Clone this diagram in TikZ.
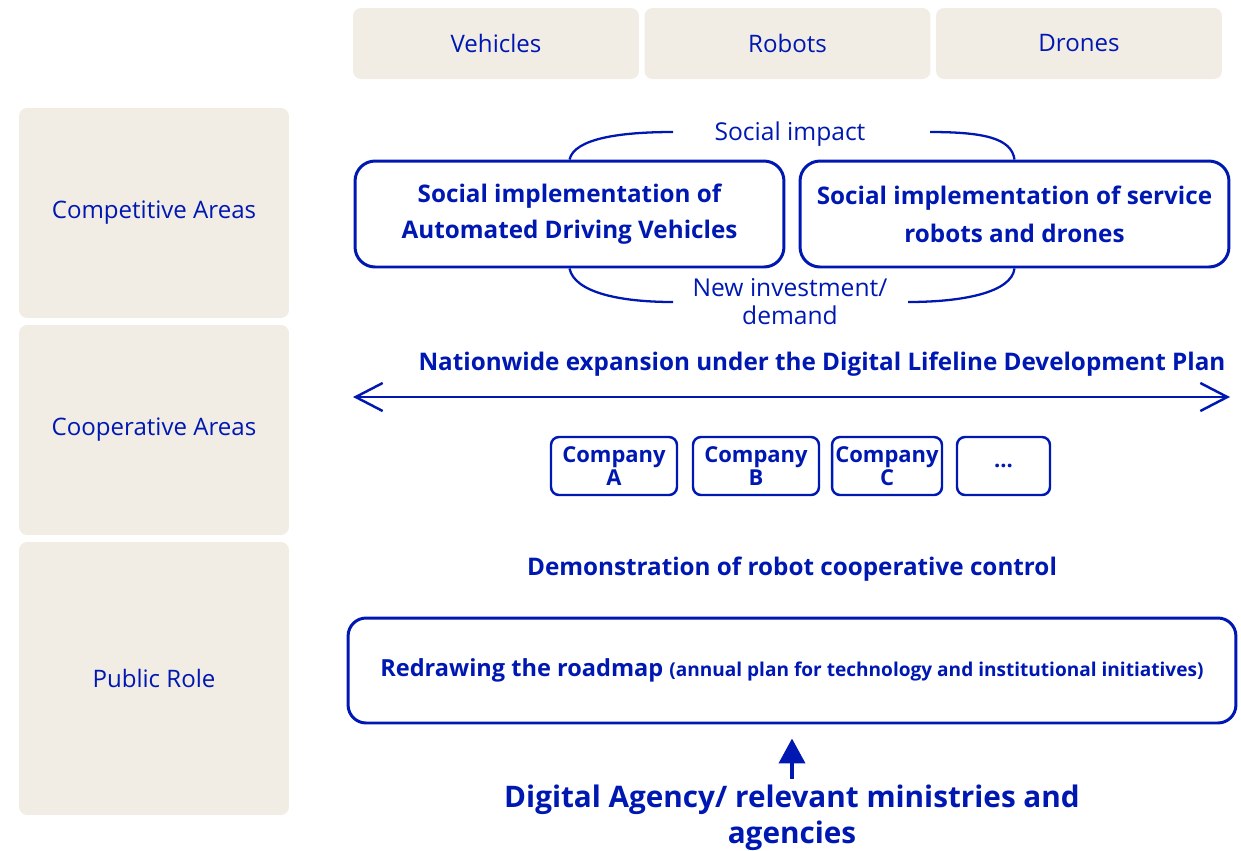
\documentclass[tikz,border=0pt]{standalone}
\usepackage{fontspec}
\setmainfont{Open Sans}
\usepackage{xcolor}
\usepackage{tikz}
\usetikzlibrary{arrows.meta,positioning,calc}
\definecolor{navy}{RGB}{0,24,178}
\definecolor{sand}{RGB}{241,236,228}

\begin{document}
\begin{tikzpicture}[x=0.02cm,y=-0.02cm,
  tab/.style={fill=sand,rounded corners=0.16cm,inner sep=0pt,text=navy,font=\fontsize{13.7}{17}\selectfont},
  area/.style={tab,minimum width=5.4cm,minimum height=4.2cm},
  impl/.style={draw=navy,line width=1.7pt,rounded corners=0.4cm,minimum width=8.58cm,minimum height=2.12cm,align=center,text=navy,font=\bfseries\fontsize{13.8}{20.5}\selectfont},
  firm/.style={draw=navy,line width=1.4pt,rounded corners=0.16cm,minimum height=1.16cm,inner sep=0pt,align=center,text=navy,font=\bfseries\fontsize{12.5}{13.2}\selectfont},
  link/.style={navy,line width=1.3pt},
  lab/.style={text=navy,align=center,font=\fontsize{14}{16}\selectfont},
  head/.style={lab,font=\bfseries\fontsize{13.8}{16}\selectfont}]
\useasboundingbox (0,0) rectangle (1241,850);

% header tabs and areas
\foreach \n/\x/\t in {veh/496/Vehicles,rob/787.5/Robots,dro/1079/Drones}
  \node[tab,minimum width=5.72cm,minimum height=1.42cm] (\n) at (\x,43.5) {\t};
\node[area] (comp) at (154,213) {Competitive Areas};
\node[area] (coop) at (154,430) {Cooperative Areas};
\node[area,minimum height=5.46cm] (pub) at (154,678.5) {Public Role};

% competitive areas
\node[impl] (adv) at (569.5,214) {Social implementation of\\Automated Driving Vehicles};
\node[impl,font=\bfseries\fontsize{13.8}{21.5}\selectfont] (srv) at (1014.5,214) {Social implementation of service\\robots and drones};
\node[lab] (impact) at (790,134) {Social impact};
\node[lab] (invest) at (790,302) {New investment/\\demand};
\coordinate (imL) at (673,132); \coordinate (imR) at (930,132);
\coordinate (inL) at (673,302); \coordinate (inR) at (908,302);
\draw[link] (adv.north) .. controls +(5,-21) and +(-53,0) .. (imL);
\draw[link] (imR) .. controls +(55,0) and +(-3,-21) .. (srv.north);
\draw[link] (adv.south) .. controls +(5,24) and +(-53,0) .. (inL);
\draw[link] (inR) .. controls +(55,0) and +(-3,24) .. (srv.south);

% cooperative areas
\node[head] (nation) at (822,364) {Nationwide expansion under the Digital Lifeline Development Plan};
\coordinate (spanL) at (353,397); \coordinate (spanR) at (1230,397);
\draw[link,line width=1.4pt,{Straight Barb[length=0.54cm,width=0.56cm]}-{Straight Barb[length=0.54cm,width=0.56cm]}] (spanL) -- (spanR);
\foreach \n/\x/\w/\t in {ca/614/2.52/{Company\\A},cb/756/2.52/{Company\\B},cc/887/2.2/{Company\\C},cx/1003.5/1.86/{...}}
  \node[firm,minimum width=\w cm] (\n) at (\x,466) {\t};

% public role
\node[head] (demo) at (792,569) {Demonstration of robot cooperative control};
\node[draw=navy,line width=1.7pt,rounded corners=0.36cm,minimum width=17.76cm,minimum height=2.1cm,text=navy,font=\bfseries\fontsize{13.4}{16}\selectfont] (road) at (792,670.5)
 {Redrawing the roadmap {\fontsize{10.85}{13}\selectfont(annual plan for technology and institutional initiatives)}};
\node[lab,font=\bfseries\fontsize{16.9}{20.5}\selectfont] (agency) at (792,818) {Digital Agency/ relevant ministries and\\agencies};
\draw[navy,line width=2.3pt,-{Triangle[length=0.5cm,width=0.52cm]}] (agency.north) -- ([yshift=-0.28cm]road.south);
\end{tikzpicture}
\end{document}
